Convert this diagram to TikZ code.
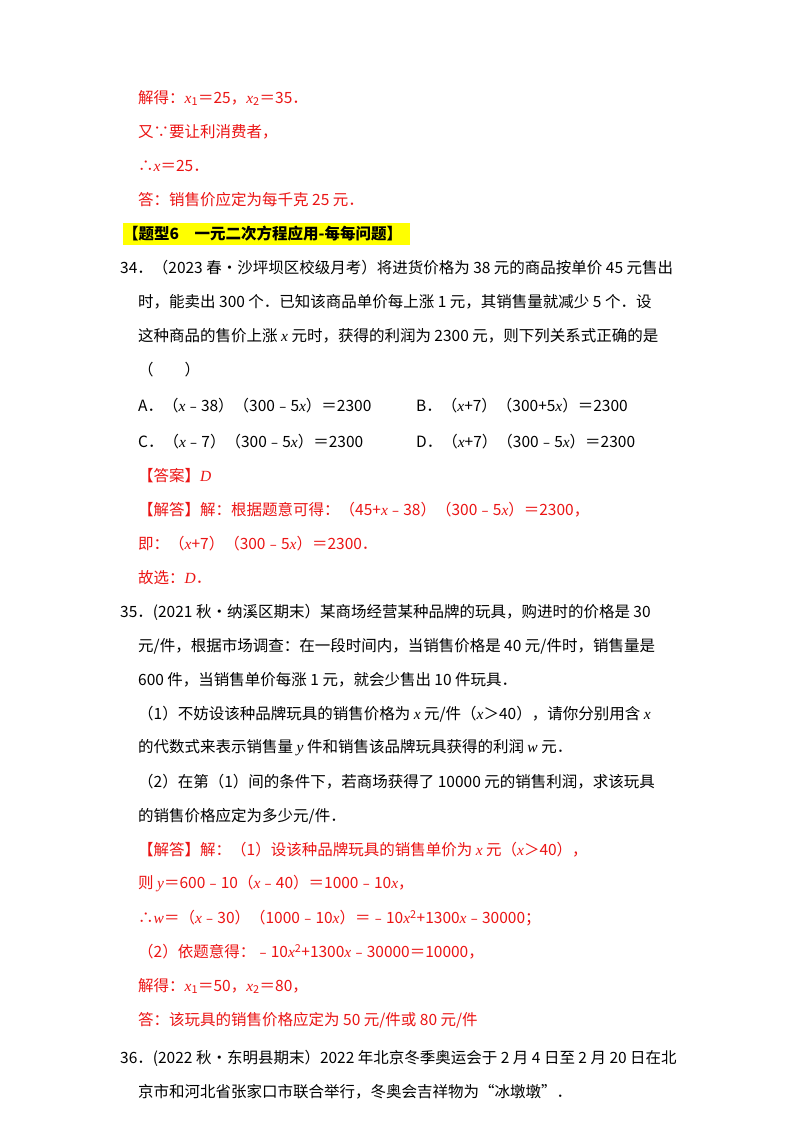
\documentclass[tikz,border=0pt]{standalone}
\usepackage{fontspec}
\setmainfont{Noto Sans CJK SC}
\newfontfamily\lt{Liberation Serif}
\newcommand\vv[1]{{\lt\itshape #1}}
\definecolor{ans}{RGB}{235,20,20}
\definecolor{hl}{RGB}{255,255,0}
\begin{document}
\begin{tikzpicture}[x=1pt,y=-1pt,
  ln/.style={anchor=west,inner sep=0pt,font=\fontsize{15.5}{18}\selectfont},
  rd/.style={ln,text=ans}]
\useasboundingbox[fill=white] (0,0) rectangle (800,1132);
\fill[hl] (123,223) rectangle (410,245);
\node[rd] (l1) at (138,98) {解得：\vv{x}\textsubscript{1}＝25，\vv{x}\textsubscript{2}＝35．};
\node[rd] (l2) at (138,132) {又∵要让利消费者，};
\node[rd] (l3) at (138,166) {∴\vv{x}＝25．};
\node[rd] (l4) at (138,200) {答：销售价应定为每千克 25 元．};
\node[ln,font=\fontsize{15.5}{18}\selectfont\bfseries] (h) at (123,234) {【题型6\quad 一元二次方程应用-每每问题】};
\node[ln] (q1) at (120,268) {34．（2023 春•沙坪坝区校级月考）将进货价格为 38 元的商品按单价 45 元售出};
\node[ln] (q2) at (138,302) {时，能卖出 300 个．已知该商品单价每上涨 1 元，其销售量就减少 5 个．设};
\node[ln] (q3) at (138,336) {这种商品的售价上涨 \vv{x} 元时，获得的利润为 2300 元，则下列关系式正确的是};
\node[ln] (q4) at (138,370) {（\qquad ）};
\node[ln] (oa) at (138,406) {A．（\vv{x}﹣38）（300﹣5\vv{x}）＝2300};
\node[ln] (ob) at (416,406) {B．（\vv{x}+7）（300+5\vv{x}）＝2300};
\node[ln] (oc) at (138,442) {C．（\vv{x}﹣7）（300﹣5\vv{x}）＝2300};
\node[ln] (od) at (416,442) {D．（\vv{x}+7）（300﹣5\vv{x}）＝2300};
\node[rd] (a1) at (138,476) {【答案】\vv{D}};
\node[rd] (a2) at (138,510) {【解答】解：根据题意可得：（45+\vv{x}﹣38）（300﹣5\vv{x}）＝2300，};
\node[rd] (a3) at (138,544) {即：（\vv{x}+7）（300﹣5\vv{x}）＝2300．};
\node[rd] (a4) at (138,578) {故选：\vv{D}．};
\node[ln] (p1) at (120,612) {35．(2021 秋•纳溪区期末）某商场经营某种品牌的玩具，购进时的价格是 30};
\node[ln] (p2) at (138,646) {元/件，根据市场调查：在一段时间内，当销售价格是 40 元/件时，销售量是};
\node[ln] (p3) at (138,680) {600 件，当销售单价每涨 1 元，就会少售出 10 件玩具．};
\node[ln] (p4) at (138,714) {（1）不妨设该种品牌玩具的销售价格为 \vv{x} 元/件（\vv{x}＞40），请你分别用含 \vv{x}};
\node[ln] (p5) at (138,748) {的代数式来表示销售量 \vv{y} 件和销售该品牌玩具获得的利润 \vv{w} 元．};
\node[ln] (p6) at (138,782) {（2）在第（1）间的条件下，若商场获得了 10000 元的销售利润，求该玩具};
\node[ln] (p7) at (138,816) {的销售价格应定为多少元/件．};
\node[rd] (s1) at (138,850) {【解答】解：（1）设该种品牌玩具的销售单价为 \vv{x} 元（\vv{x}＞40），};
\node[rd] (s2) at (138,884) {则 \vv{y}＝600﹣10（\vv{x}﹣40）＝1000﹣10\vv{x}，};
\node[rd] (s3) at (138,918) {∴\vv{w}＝（\vv{x}﹣30）（1000﹣10\vv{x}）＝﹣10\vv{x}\textsuperscript{2}+1300\vv{x}﹣30000；};
\node[rd] (s4) at (138,952) {（2）依题意得：﹣10\vv{x}\textsuperscript{2}+1300\vv{x}﹣30000＝10000，};
\node[rd] (s5) at (138,986) {解得：\vv{x}\textsubscript{1}＝50，\vv{x}\textsubscript{2}＝80，};
\node[rd] (s6) at (138,1020) {答：该玩具的销售价格应定为 50 元/件或 80 元/件};
\node[ln] (r1) at (120,1058) {36．(2022 秋•东明县期末）2022 年北京冬季奥运会于 2 月 4 日至 2 月 20 日在北};
\node[ln] (r2) at (138,1092) {京市和河北省张家口市联合举行，冬奥会吉祥物为“冰墩墩”．};
\end{tikzpicture}
\end{document}
